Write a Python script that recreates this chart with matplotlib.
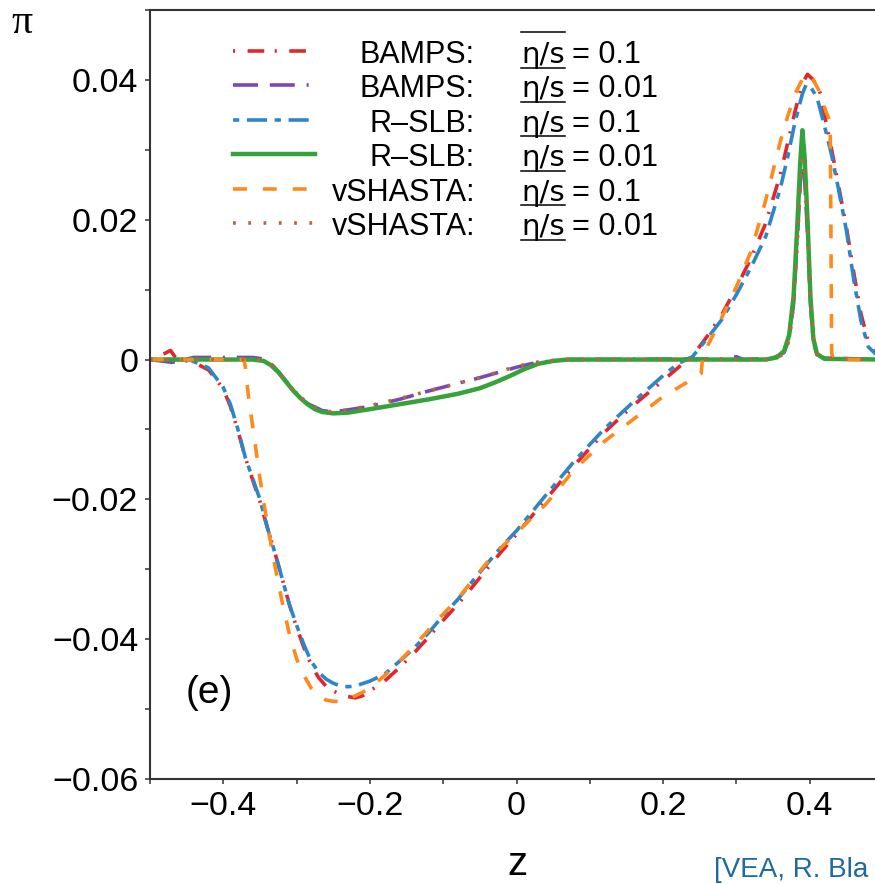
import matplotlib
matplotlib.use('Agg')
import matplotlib.pyplot as plt
from matplotlib.lines import Line2D
from matplotlib.ticker import MultipleLocator, FuncFormatter

plt.rcParams['font.family'] = ['Liberation Sans', 'DejaVu Sans']
plt.rcParams['lines.scale_dashes'] = False

# ---- data ----
z_bamps_01 = [-0.50, -0.485, -0.472, -0.466, -0.46, -0.44, -0.42, -0.40, -0.39, -0.38, -0.37, -0.36,
              -0.35, -0.34, -0.33, -0.32, -0.31, -0.30, -0.29, -0.28, -0.27, -0.26, -0.25, -0.24,
              -0.23, -0.22, -0.21, -0.20, -0.18, -0.16, -0.14, -0.12, -0.10, -0.08, -0.06, -0.04,
              -0.02, 0.0, 0.04, 0.08, 0.12, 0.16, 0.20, 0.22, 0.24, 0.26, 0.28, 0.30, 0.32, 0.34,
              0.36, 0.37, 0.38, 0.39, 0.397, 0.405, 0.415, 0.42, 0.43, 0.44, 0.45, 0.46, 0.47,
              0.48, 0.49, 0.50]
pi_bamps_01 = [0.0, 0.0006, 0.0013, 0.0004, 0.0, -0.0004, -0.0015, -0.0042, -0.0068, -0.0102, -0.0140,
               -0.0172, -0.0203, -0.0240, -0.0275, -0.0312, -0.0350, -0.0383, -0.0412, -0.0437,
               -0.0455, -0.0467, -0.0474, -0.0479, -0.0482, -0.0484, -0.0481, -0.0474, -0.0460,
               -0.0441, -0.0420, -0.0397, -0.0373, -0.0350, -0.0325, -0.0299, -0.0274, -0.0250,
               -0.0200, -0.0150, -0.0104, -0.0065, -0.0030, -0.0012, 0.0005, 0.0033, 0.0064,
               0.0103, 0.0145, 0.0195, 0.0265, 0.0310, 0.0355, 0.0395, 0.0408, 0.0400, 0.0380,
               0.0350, 0.0300, 0.0245, 0.0190, 0.0125, 0.0065, 0.0025, 0.0010, 0.0006]

z_rslb_01 = [-0.50, -0.46, -0.44, -0.42, -0.40, -0.39, -0.38, -0.37, -0.36, -0.35, -0.34, -0.33,
             -0.32, -0.31, -0.30, -0.29, -0.28, -0.27, -0.26, -0.25, -0.24, -0.23, -0.22, -0.20,
             -0.18, -0.16, -0.14, -0.12, -0.10, -0.08, -0.06, -0.04, -0.02, 0.0, 0.04, 0.08, 0.12,
             0.16, 0.20, 0.22, 0.24, 0.26, 0.28, 0.30, 0.32, 0.34, 0.36, 0.37, 0.38, 0.39, 0.395,
             0.40, 0.41, 0.42, 0.43, 0.44, 0.45, 0.46, 0.47, 0.48, 0.49, 0.50]
pi_rslb_01 = [0.0, 0.0, -0.0003, -0.0012, -0.0040, -0.0065, -0.0100, -0.0140, -0.0170, -0.0200,
              -0.0240, -0.0275, -0.0312, -0.0350, -0.0380, -0.0408, -0.0432, -0.0447, -0.0457,
              -0.0463, -0.0467, -0.0468, -0.0467, -0.0460, -0.0450, -0.0432, -0.0413, -0.0391,
              -0.0366, -0.0343, -0.0317, -0.0292, -0.0267, -0.0245, -0.0194, -0.0144, -0.0099,
              -0.0060, -0.0023, -0.0006, 0.0004, 0.0030, 0.0057, 0.0093, 0.0132, 0.0176, 0.0245,
              0.0290, 0.0340, 0.0380, 0.0393, 0.0392, 0.0375, 0.0335, 0.0292, 0.0240, 0.0185,
              0.0115, 0.0055, 0.0018, 0.0008, 0.0005]

z_vsh_01 = [-0.50, -0.40, -0.372, -0.370, -0.366, -0.36, -0.35, -0.34, -0.33, -0.32, -0.31, -0.30,
            -0.29, -0.28, -0.27, -0.26, -0.25, -0.24, -0.23, -0.22, -0.21, -0.20, -0.18, -0.16,
            -0.14, -0.12, -0.10, -0.08, -0.06, -0.04, -0.02, 0.0, 0.04, 0.08, 0.12, 0.16, 0.20,
            0.24, 0.252, 0.254, 0.26, 0.28, 0.30, 0.32, 0.34, 0.36, 0.37, 0.38, 0.39, 0.397,
            0.405, 0.415, 0.422, 0.428, 0.430, 0.432, 0.50]
pi_vsh_01 = [0.0, 0.0, 0.0, -0.0010, -0.0050, -0.0095, -0.0170, -0.0235, -0.0293, -0.0345, -0.0392,
             -0.0428, -0.0452, -0.0470, -0.0481, -0.0487, -0.0489, -0.0489, -0.0486, -0.0481,
             -0.0476, -0.0470, -0.0452, -0.0432, -0.0410, -0.0387, -0.0364, -0.0342, -0.0316,
             -0.0290, -0.0268, -0.0248, -0.0207, -0.0156, -0.0117, -0.0085, -0.0053, -0.0028,
             -0.0020, 0.0005, 0.0018, 0.0060, 0.0104, 0.0155, 0.0228, 0.0312, 0.0348, 0.0380,
             0.0401, 0.0409, 0.0400, 0.0380, 0.0355, 0.0340, 0.0010, 0.0, 0.0]

z_rslb_001 = [-0.50, -0.36, -0.345, -0.335, -0.325, -0.315, -0.305, -0.295, -0.285, -0.275, -0.265,
              -0.25, -0.23, -0.20, -0.16, -0.12, -0.08, -0.05, -0.03, -0.01, 0.01, 0.03, 0.05, 0.07,
              0.34, 0.355, 0.365, 0.372, 0.378, 0.383, 0.387, 0.390, 0.393, 0.397, 0.401, 0.405,
              0.41, 0.42, 0.50]
pi_rslb_001 = [0.0, 0.0, -0.0002, -0.0008, -0.0018, -0.0031, -0.0044, -0.0055, -0.0064, -0.0071,
               -0.0075, -0.0077, -0.0076, -0.0071, -0.0064, -0.0057, -0.0049, -0.0041, -0.0033,
               -0.0024, -0.0014, -0.0006, -0.0002, 0.0, 0.0, 0.0003, 0.0012, 0.0035, 0.0090,
               0.0190, 0.0280, 0.0328, 0.0290, 0.0200, 0.0090, 0.0030, 0.0008, 0.0001, 0.0]

z_bamps_001 = [-0.50, -0.47, -0.44, -0.40, -0.36, -0.34, -0.325, -0.305, -0.285, -0.265, -0.25,
               -0.23, -0.20, -0.16, -0.12, -0.08, -0.05, -0.02, 0.0, 0.02, 0.04, 0.07, 0.28, 0.30,
               0.31, 0.35, 0.365, 0.372, 0.378, 0.383, 0.387, 0.390, 0.393, 0.397, 0.401, 0.405,
               0.41, 0.42, 0.50]
pi_bamps_001 = [0.0, -0.0004, 0.0003, 0.0003, 0.0003, 0.0, -0.0017, -0.0043, -0.0063, -0.0073,
                -0.0075, -0.0072, -0.0067, -0.0057, -0.0045, -0.0034, -0.0026, -0.0017, -0.0011,
                -0.0006, -0.0003, 0.0, 0.0001, 0.0004, 0.0, 0.0002, 0.0010, 0.0030, 0.0080, 0.0170,
                0.0250, 0.0290, 0.0260, 0.0180, 0.0080, 0.0025, 0.0007, 0.0002, 0.0]

z_vsh_001 = [-0.50, -0.36, -0.34, -0.325, -0.305, -0.285, -0.265, -0.25, -0.23, -0.20, -0.16,
             -0.12, -0.08, -0.05, -0.02, 0.0, 0.02, 0.04, 0.07, 0.35, 0.365, 0.372, 0.378, 0.383,
             0.387, 0.390, 0.393, 0.397, 0.401, 0.405, 0.41, 0.42, 0.50]
pi_vsh_001 = [0.0, 0.0, -0.0002, -0.0017, -0.0043, -0.0063, -0.0073, -0.0075, -0.0072, -0.0066,
              -0.0056, -0.0045, -0.0034, -0.0026, -0.0016, -0.0010, -0.0005, -0.0002, 0.0, 0.0,
              0.0008, 0.0028, 0.0078, 0.0165, 0.0245, 0.0288, 0.0262, 0.0185, 0.0085, 0.0027,
              0.0008, 0.0002, 0.0]

codes = ['BAMPS:', 'BAMPS:', 'R\u2013SLB:', 'R\u2013SLB:', 'vSHASTA:', 'vSHASTA:']
etas = ['0.1', '0.01', '0.1', '0.01', '0.1', '0.01']

# ---- styles ----
series = [
    (z_bamps_01, pi_bamps_01, '#e3262b', (0, (1.5, 9, 12, 7.5)), 2.6),
    (z_bamps_001, pi_bamps_001, '#7b47b6', (0, (18, 8.5, 18, 8.5, 1.5, 8.5)), 2.6),
    (z_rslb_01, pi_rslb_01, '#2e86c6', (0, (4.5, 5.5, 14.5, 5.5)), 2.6),
    (z_rslb_001, pi_rslb_001, '#35a23a', '-', 3.2),
    (z_vsh_01, pi_vsh_01, '#ff8a1c', (0, (10, 11.5)), 2.6),
    (z_vsh_001, pi_vsh_001, '#b5683c', (0, (2, 9)), 2.6),
]

W, H = 875, 884
fig = plt.figure(figsize=(W / 100, H / 100), dpi=100)
ax = fig.add_axes([150 / W, (H - 779) / H, 733 / W, 769 / H])

for z, p, c, ls, lw in series:
    ax.plot(z, p, color=c, linestyle=ls, linewidth=lw)

ax.set_xlim(-0.5, 0.5)
ax.set_ylim(-0.06, 0.05)
ax.xaxis.set_major_locator(MultipleLocator(0.2))
ax.xaxis.set_minor_locator(MultipleLocator(0.1))
ax.yaxis.set_major_locator(MultipleLocator(0.02))
ax.yaxis.set_minor_locator(MultipleLocator(0.01))


def fmt(v, pos):
    if abs(v) < 1e-9:
        return '0'
    return ('%g' % v).replace('-', '\u2212')


ax.xaxis.set_major_formatter(FuncFormatter(fmt))
ax.yaxis.set_major_formatter(FuncFormatter(fmt))
ax.tick_params(which='both', direction='out', length=3.5, width=1.1, color='#333333',
               top=False, right=False)
ax.tick_params(axis='both', labelsize=24.5)
ax.tick_params(axis='y', pad=5)
ax.tick_params(axis='x', pad=5)
for s in ax.spines.values():
    s.set_linewidth(1.5)
    s.set_color('#333333')

# overlay in pixel coordinates for the annotations
ov = fig.add_axes([0, 0, 1, 1])
ov.set_xlim(0, W)
ov.set_ylim(H, 0)
ov.axis('off')
ov.patch.set_visible(False)

ov.text(22, 23, '\u03c0', fontsize=30, family=['Liberation Serif'],
        ha='center', va='center')
ov.text(517, 883, 'z', fontsize=29, ha='center', va='bottom')
ov.text(209, 693, '(e)', fontsize=28, ha='center', va='center')
ov.text(714, 877, '[VEA, R. Bla', fontsize=20, color='#1f6aa0',
        ha='left', va='baseline')

# legend drawn by hand: handle, code, eta/s label
row0 = 63
step = 34.4
fig.canvas.draw()
rend = fig.canvas.get_renderer()
for i, (z, p, c, ls, lw) in enumerate(series):
    base = row0 + i * step
    ov.add_line(Line2D([233, 315], [base - 12, base - 12], color=c, linestyle=ls, linewidth=lw))
    ov.text(475, base, codes[i], fontsize=22, ha='right', va='baseline')
    t = ov.text(521, base, '\u03b7/s', fontsize=21, ha='left', va='baseline',
                family=['DejaVu Sans'])
    bb = t.get_window_extent(rend)
    x0, x1 = bb.x0, bb.x1
    ov.text(x1 + 7, base, '= ' + etas[i], fontsize=22, ha='left', va='baseline')
    ov.add_line(Line2D([x0, x1], [base + 4.5, base + 4.5], color='black', linewidth=1.1))
    if i == 0:
        ov.add_line(Line2D([x0, x1], [row0 - 31, row0 - 31], color='black', linewidth=1.1))

fig.savefig('out.png', dpi=100)
